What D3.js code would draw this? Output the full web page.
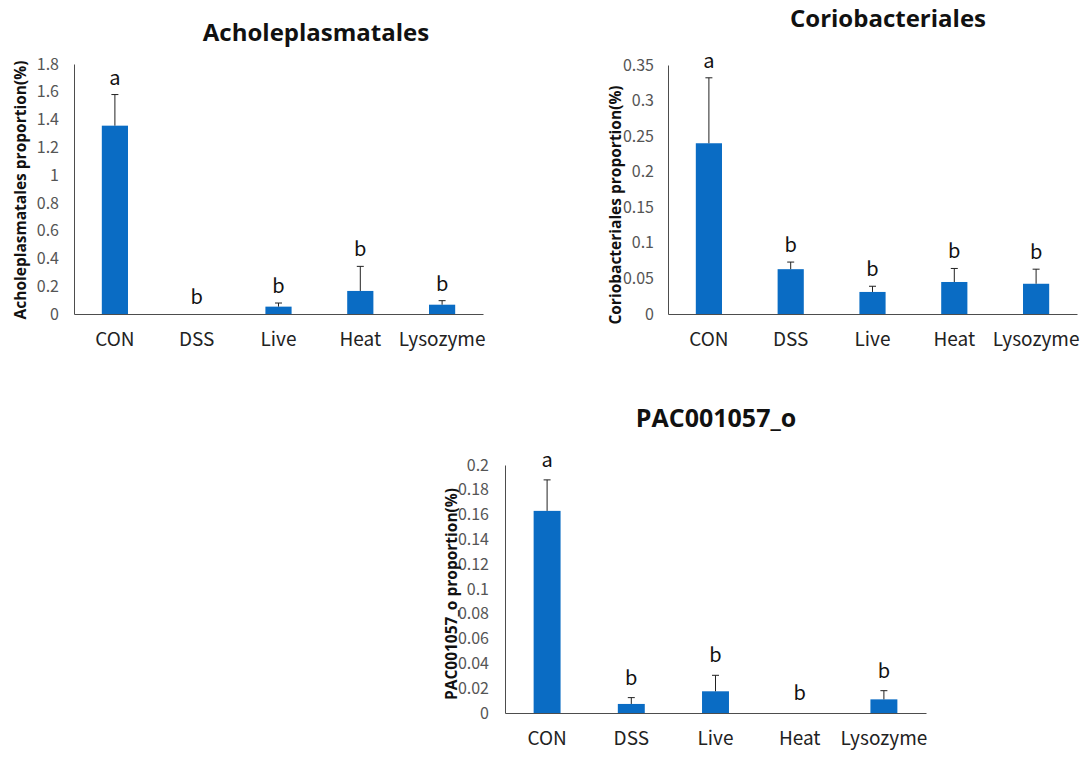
<!DOCTYPE html>
<html>
<head>
<meta charset="utf-8">
<script src="https://cdn.jsdelivr.net/npm/d3@7"></script>
<style>
  html, body { margin: 0; padding: 0; background: #fff; }
  svg { display: block; }
</style>
</head>
<body>
<svg id="fig" width="1086" height="757"></svg>
<script>
// Treatment groups shared by every panel
const groups = ["CON", "DSS", "Live", "Heat", "Lysozyme"];

// Acholeplasmatales relative abundance (%), mean and upper error
const acholeMean = [1.356, 0, 0.053, 0.166, 0.067];
const acholeErr = [0.224, 0, 0.026, 0.177, 0.029];
const acholeLetters = ["a", "b", "b", "b", "b"];
const acholeTicks = [0, 0.2, 0.4, 0.6, 0.8, 1, 1.2, 1.4, 1.6, 1.8];

// Coriobacteriales relative abundance (%)
const corioMean = [0.240, 0.063, 0.031, 0.045, 0.0425];
const corioErr = [0.092, 0.010, 0.008, 0.019, 0.0205];
const corioLetters = ["a", "b", "b", "b", "b"];
const corioTicks = [0, 0.05, 0.1, 0.15, 0.2, 0.25, 0.3, 0.35];

// PAC001057_o relative abundance (%)
const pacMean = [0.163, 0.0073, 0.0175, 0, 0.011];
const pacErr = [0.025, 0.0051, 0.0129, 0, 0.007];
const pacLetters = ["a", "b", "b", "b", "b"];
const pacTicks = [0, 0.02, 0.04, 0.06, 0.08, 0.1, 0.12, 0.14, 0.16, 0.18, 0.2];

const BAR = "#0a6cc4";
const AXIS = "#4d4d4d";
const TICK_FONT = "'Noto Sans CJK KR', 'Noto Sans', sans-serif";
const TITLE_FONT = "'Open Sans', 'Noto Sans', sans-serif";

const svg = d3.select("#fig");

function panel(p) {
  const g = svg.append("g");
  const x = d3.scaleBand().domain(groups).range([p.left, p.right]);
  const y = d3.scaleLinear().domain([0, p.max]).range([p.base, p.top]);
  const bw = x.bandwidth() * 0.32;
  const rows = groups.map((k, i) => ({ k, m: p.mean[i], e: p.err[i], l: p.letters[i] }));

  // title
  g.append("text")
    .attr("x", p.titleX).attr("y", p.titleY)
    .attr("text-anchor", "middle")
    .style("font-family", TITLE_FONT).style("font-weight", 700)
    .style("font-size", p.titleSize + "px").attr("fill", "#111")
    .text(p.title);

  // y axis: line plus labels, no tick marks
  const ya = d3.axisLeft(y).tickValues(p.ticks).tickSize(0).tickPadding(p.tickPad)
    .tickFormat(d => String(+d.toFixed(3)));
  const yg = g.append("g").attr("transform", `translate(${p.left},0)`).call(ya);
  yg.select(".domain").attr("stroke", AXIS);
  yg.selectAll("text").style("font-family", TICK_FONT).style("font-size", "16px")
    .style("font-weight", 400).attr("fill", "#555");

  // y axis title
  g.append("text")
    .attr("transform", `translate(${p.labelX},${p.labelY}) rotate(-90)`)
    .attr("text-anchor", "middle")
    .style("font-family", TITLE_FONT).style("font-weight", 700)
    .style("font-size", "15.5px").attr("fill", "#111")
    .text(p.ylabel);

  // bars
  g.selectAll("rect.bar").data(rows).join("rect")
    .attr("x", d => x(d.k) + x.bandwidth() / 2 - bw / 2)
    .attr("width", bw)
    .attr("y", d => y(d.m))
    .attr("height", d => y(0) - y(d.m))
    .attr("fill", BAR);

  // upper error bars
  const eb = rows.filter(d => d.e > 0);
  g.selectAll("line.err").data(eb).join("line")
    .attr("x1", d => x(d.k) + x.bandwidth() / 2).attr("x2", d => x(d.k) + x.bandwidth() / 2)
    .attr("y1", d => y(d.m)).attr("y2", d => y(d.m + d.e))
    .attr("stroke", "#222").attr("stroke-width", 1);
  g.selectAll("line.cap").data(eb).join("line")
    .attr("x1", d => x(d.k) + x.bandwidth() / 2 - 3.5).attr("x2", d => x(d.k) + x.bandwidth() / 2 + 3.5)
    .attr("y1", d => y(d.m + d.e)).attr("y2", d => y(d.m + d.e))
    .attr("stroke", "#222").attr("stroke-width", 1);

  // x axis baseline and group names
  const xa = d3.axisBottom(x).tickSize(0).tickPadding(p.catPad);
  const xg = g.append("g").attr("transform", `translate(0,${p.base})`).call(xa);
  xg.select(".domain").attr("stroke", AXIS);
  xg.selectAll("text").style("font-family", TICK_FONT).style("font-size", "19px")
    .style("font-weight", 400).attr("fill", "#222");

  // significance letters
  g.selectAll("text.sig").data(rows).join("text")
    .attr("x", d => x(d.k) + x.bandwidth() / 2)
    .attr("y", d => y(d.m + d.e) - p.letterGap)
    .attr("text-anchor", "middle")
    .style("font-family", TICK_FONT).style("font-size", "20px")
    .attr("fill", "#111")
    .text(d => d.l);
}

panel({
  title: "Acholeplasmatales", titleX: 316, titleY: 41, titleSize: 24,
  ylabel: "Acholeplasmatales proportion(%)", labelX: 26, labelY: 190,
  mean: acholeMean, err: acholeErr, letters: acholeLetters, ticks: acholeTicks, max: 1.8,
  left: 74, right: 483, base: 314, top: 64, tickPad: 15, catPad: 19, letterGap: 10
});

panel({
  title: "Coriobacteriales", titleX: 888, titleY: 27, titleSize: 24,
  ylabel: "Coriobacteriales proportion(%)", labelX: 621, labelY: 205,
  mean: corioMean, err: corioErr, letters: corioLetters, ticks: corioTicks, max: 0.35,
  left: 668, right: 1077, base: 314, top: 65, tickPad: 14, catPad: 19, letterGap: 10
});

panel({
  title: "PAC001057_o", titleX: 716, titleY: 427, titleSize: 25,
  ylabel: "PAC001057_o proportion(%)", labelX: 457, labelY: 594,
  mean: pacMean, err: pacErr, letters: pacLetters, ticks: pacTicks, max: 0.2,
  left: 505, right: 926, base: 713, top: 465, tickPad: 16, catPad: 19, letterGap: 13
});
</script>
</body>
</html>
